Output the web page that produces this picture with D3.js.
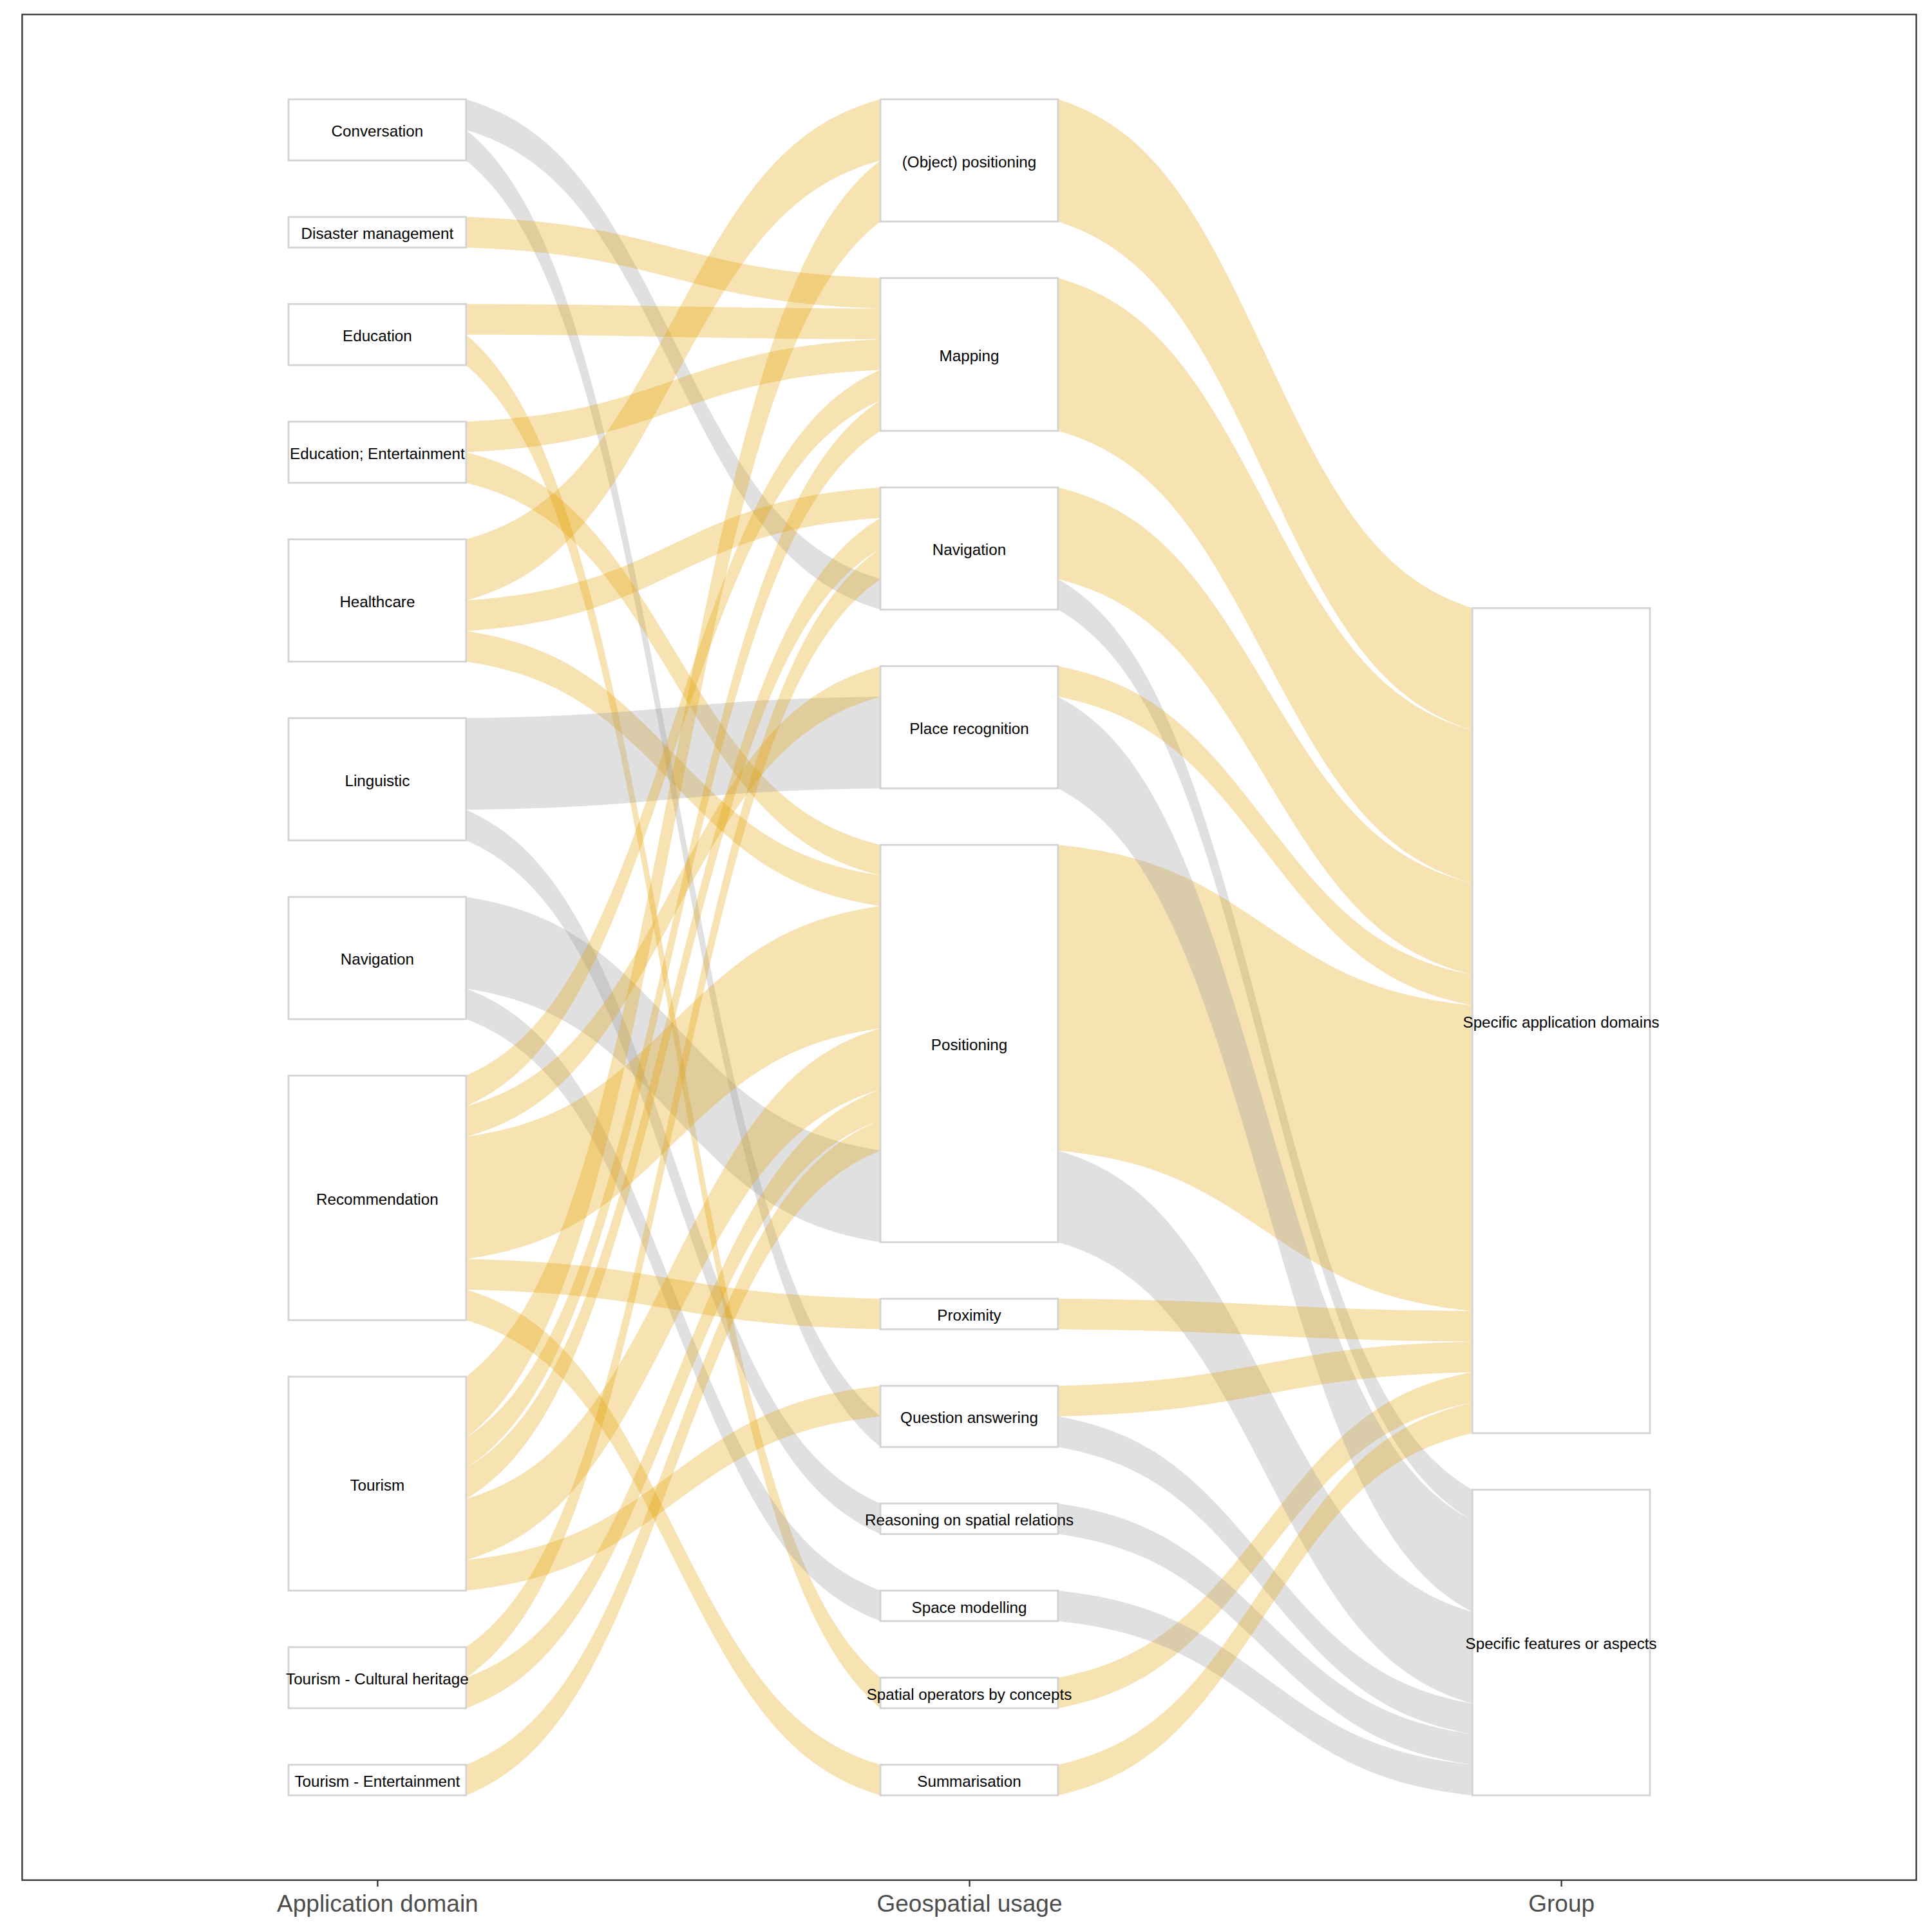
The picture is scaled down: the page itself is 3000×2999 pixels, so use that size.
<!DOCTYPE html>
<html>
<head>
<meta charset="utf-8">
<script src="https://cdn.jsdelivr.net/npm/d3@7"></script>
<style>
  html, body { margin: 0; padding: 0; background: #ffffff; }
  svg { display: block; }
</style>
</head>
<body>
<script>
// ---------------- DATA ----------------
const axisTitles = ["Application domain", "Geospatial usage", "Group"];

const domains = ["Conversation", "Disaster management", "Education", "Education; Entertainment",
  "Healthcare", "Linguistic", "Navigation", "Recommendation", "Tourism",
  "Tourism - Cultural heritage", "Tourism - Entertainment"];

const usages = ["(Object) positioning", "Mapping", "Navigation", "Place recognition", "Positioning",
  "Proximity", "Question answering", "Reasoning on spatial relations", "Space modelling",
  "Spatial operators by concepts", "Summarisation"];

const groups = ["Specific application domains", "Specific features or aspects"];

// group of each application domain (same order as domains)
const domainGroup = [
  "Specific features or aspects", "Specific application domains", "Specific application domains",
  "Specific application domains", "Specific application domains", "Specific features or aspects",
  "Specific features or aspects", "Specific application domains", "Specific application domains",
  "Specific application domains", "Specific application domains"];

// flows: application domain -> geospatial usage (counts)
const flowFrom = ["Conversation", "Conversation", "Disaster management", "Education", "Education",
  "Education; Entertainment", "Education; Entertainment", "Healthcare", "Healthcare", "Healthcare",
  "Linguistic", "Linguistic", "Navigation", "Navigation", "Recommendation", "Recommendation",
  "Recommendation", "Recommendation", "Recommendation", "Tourism", "Tourism", "Tourism", "Tourism",
  "Tourism", "Tourism - Cultural heritage", "Tourism - Cultural heritage", "Tourism - Entertainment"];
const flowTo = ["Navigation", "Question answering", "Mapping", "Mapping", "Spatial operators by concepts",
  "Mapping", "Positioning", "(Object) positioning", "Navigation", "Positioning",
  "Place recognition", "Reasoning on spatial relations", "Positioning", "Space modelling", "Mapping",
  "Place recognition", "Positioning", "Proximity", "Summarisation", "(Object) positioning", "Mapping",
  "Navigation", "Positioning", "Question answering", "Navigation", "Positioning", "Positioning"];
const flowCount = [1, 1, 1, 1, 1,
  1, 1, 2, 1, 1,
  3, 1, 3, 1, 1,
  1, 4, 1, 1, 2, 1,
  1, 2, 1, 1, 1, 1];

const groupColors = ["#E69F00", "#999999"];

// ---------------- LAYOUT ----------------
const W = 3000, H = 2999;
const panel = { l: 34.4, r: 2975.6, t: 22.5, b: 2920 };

const svg = d3.select("body").append("svg")
  .attr("width", W).attr("height", H)
  .attr("viewBox", `0 0 ${W} ${H}`);
svg.append("rect").attr("width", W).attr("height", H).attr("fill", "#ffffff");

const x = d3.scalePoint().domain(axisTitles).range([panel.l, panel.r]).padding(0.6);
const halfW = 0.15 * x.step();

const total = d3.sum(flowCount);
const space = 0.05 * total;
const maxStack = total + (Math.max(domains.length, usages.length) - 1) * space;
const expand = 0.05 * maxStack;
const y = d3.scaleLinear().domain([-expand, maxStack + expand]).range([panel.b, panel.t]);

const gOf = d => domainGroup[domains.indexOf(d)];

// stage 1 links
const links1 = flowFrom.map((f, i) => ({ src: f, tgt: flowTo[i], grp: gOf(f), n: flowCount[i] }));
// stage 2 links (usage -> group)
const l2map = new Map();
links1.forEach(l => {
  const k = l.tgt + "|" + l.grp;
  if (!l2map.has(k)) l2map.set(k, { src: l.tgt, tgt: l.grp, grp: l.grp, n: 0 });
  l2map.get(k).n += l.n;
});
const links2 = Array.from(l2map.values());

function stackNodes(names, getTotal) {
  const pos = {};
  let cur = 0;
  for (let i = names.length - 1; i >= 0; i--) {
    const n = getTotal(names[i]);
    pos[names[i]] = { y0: cur, y1: cur + n, n };
    cur += n + space;
  }
  return pos;
}
const domPos = stackNodes(domains, d => d3.sum(links1.filter(l => l.src === d), l => l.n));
const usePos = stackNodes(usages, u => d3.sum(links1.filter(l => l.tgt === u), l => l.n));
const grpPos = stackNodes(groups, g => d3.sum(links2.filter(l => l.tgt === g), l => l.n));

domains.forEach(d => {
  let cur = domPos[d].y1;
  links1.filter(l => l.src === d)
    .sort((a, b) => usages.indexOf(a.tgt) - usages.indexOf(b.tgt))
    .forEach(l => { l.sTop = cur; l.sBot = cur - l.n; cur -= l.n; });
});
usages.forEach(u => {
  let cur = usePos[u].y1;
  links1.filter(l => l.tgt === u)
    .sort((a, b) => (groups.indexOf(a.grp) - groups.indexOf(b.grp)) || (domains.indexOf(a.src) - domains.indexOf(b.src)))
    .forEach(l => { l.tTop = cur; l.tBot = cur - l.n; cur -= l.n; });
});
usages.forEach(u => {
  let cur = usePos[u].y1;
  links2.filter(l => l.src === u)
    .sort((a, b) => groups.indexOf(a.tgt) - groups.indexOf(b.tgt))
    .forEach(l => { l.sTop = cur; l.sBot = cur - l.n; cur -= l.n; });
});
groups.forEach(g => {
  let cur = grpPos[g].y1;
  links2.filter(l => l.tgt === g)
    .sort((a, b) => usages.indexOf(a.src) - usages.indexOf(b.src))
    .forEach(l => { l.tTop = cur; l.tBot = cur - l.n; cur -= l.n; });
});

// smooth curve (normalised logistic)
const S = 3.2;
const L = v => 1 / (1 + Math.exp(-v));
const f = t => (L(S * (2 * t - 1)) - L(-S)) / (L(S) - L(-S));
const NPTS = 80;

function bandPath(x0, x1, s0, s1, t0, t1) {
  const top = [], bot = [];
  for (let i = 0; i <= NPTS; i++) {
    const t = i / NPTS, k = f(t);
    const xx = x0 + (x1 - x0) * t;
    top.push([xx, y(s0 + (t0 - s0) * k)]);
    bot.push([xx, y(s1 + (t1 - s1) * k)]);
  }
  bot.reverse();
  return "M" + top.map(p => p.join(",")).join("L") + "L" + bot.map(p => p.join(",")).join("L") + "Z";
}

const flowsG = svg.append("g");
function drawLinks(links, a0, a1) {
  const xa = x(a0) + halfW, xb = x(a1) - halfW;
  flowsG.selectAll(null).data(links).enter().append("path")
    .attr("d", l => bandPath(xa, xb, l.sTop, l.sBot, l.tTop, l.tBot))
    .attr("fill", l => groupColors[groups.indexOf(l.grp)])
    .attr("fill-opacity", 0.3)
    .attr("stroke", "none");
}
drawLinks(links1, axisTitles[0], axisTitles[1]);
drawLinks(links2, axisTitles[1], axisTitles[2]);

// nodes
const nodesG = svg.append("g");
const labelsG = svg.append("g");
function drawNodes(names, pos, axis) {
  const cx = x(axis);
  names.forEach(nm => {
    const p = pos[nm];
    nodesG.append("rect")
      .attr("x", cx - halfW).attr("width", 2 * halfW)
      .attr("y", y(p.y1)).attr("height", y(p.y0) - y(p.y1))
      .attr("fill", "#ffffff").attr("stroke", "#D3D3D3").attr("stroke-width", 2.8);
    labelsG.append("text")
      .attr("x", cx).attr("y", (y(p.y0) + y(p.y1)) / 2 + 2)
      .attr("text-anchor", "middle").attr("dominant-baseline", "central")
      .attr("font-family", "'Liberation Sans', Arial, sans-serif")
      .attr("font-size", 24.2).attr("fill", "#000000")
      .text(nm);
  });
}
drawNodes(domains, domPos, axisTitles[0]);
drawNodes(usages, usePos, axisTitles[1]);
drawNodes(groups, grpPos, axisTitles[2]);

// panel border
svg.append("rect")
  .attr("x", panel.l).attr("y", panel.t)
  .attr("width", panel.r - panel.l).attr("height", panel.b - panel.t)
  .attr("fill", "none").attr("stroke", "#333333").attr("stroke-width", 2.3);

// x axis
const ax = svg.append("g").attr("transform", `translate(0,${panel.b})`)
  .call(d3.axisBottom(x).tickSize(10).tickPadding(13));
ax.select(".domain").remove();
ax.selectAll(".tick line").attr("stroke", "#333333").attr("stroke-width", 2.3);
ax.selectAll(".tick text")
  .attr("font-family", "'Liberation Sans', Arial, sans-serif")
  .attr("font-size", 37).attr("fill", "#4D4D4D");
</script>
</body>
</html>
